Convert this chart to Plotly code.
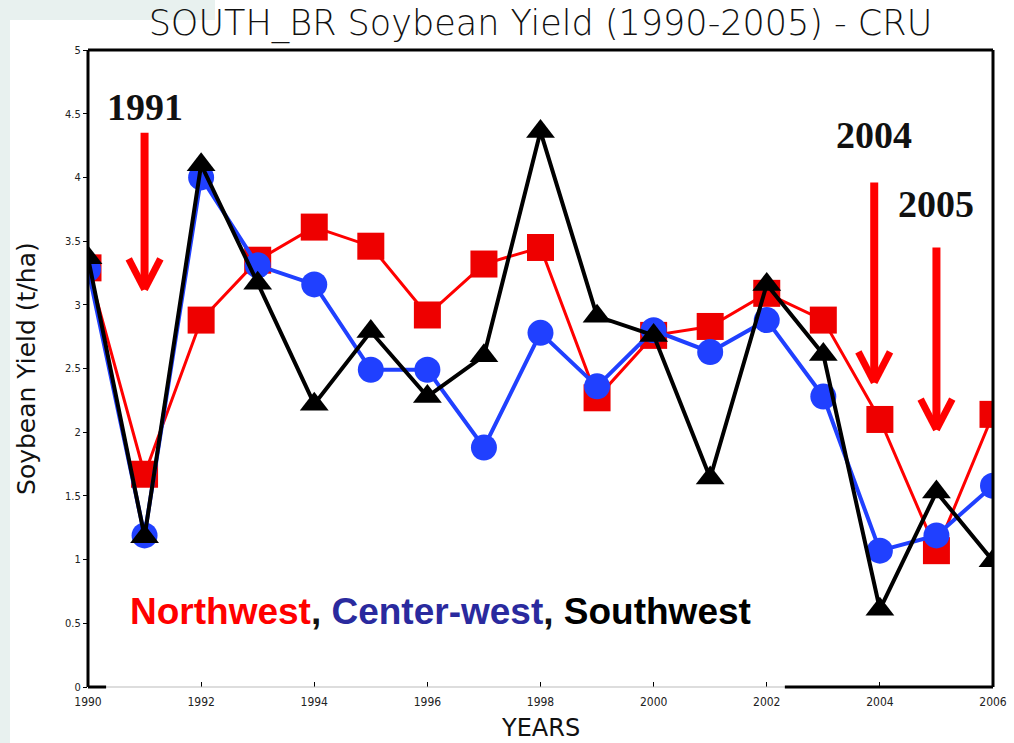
import plotly.graph_objects as go

# Crop years and regional soybean yields (t/ha)
years = list(range(1990, 2007))
northwest = [3.29, 1.67, 2.88, 3.35, 3.61, 3.46, 2.92, 3.32, 3.45, 2.27,
             2.76, 2.83, 3.09, 2.88, 2.10, 1.07, 2.14]
center_west = [3.28, 1.19, 4.00, 3.31, 3.16, 2.49, 2.49, 1.88, 2.78, 2.36,
               2.80, 2.63, 2.88, 2.28, 1.07, 1.19, 1.58]
southwest = [3.37, 1.18, 4.10, 3.17, 2.22, 2.79, 2.28, 2.60, 4.36, 2.91,
             2.76, 1.64, 3.16, 2.61, 0.61, 1.53, 0.99]

y_ticks = [0, 0.5, 1, 1.5, 2, 2.5, 3, 3.5, 4, 4.5, 5]
y_tick_text = ["0", "0.5", "1", "1.5", "2", "2.5", "3", "3.5", "4", "4.5", "5"]
x_ticks = list(range(1990, 2007, 2))

# Highlighted drought years: (label, arrow x, arrow top, arrow tip, label y)
highlights = [
    ("1991", 1991.0, 4.35, 3.12, 4.55),
    ("2004", 2003.9, 3.96, 2.39, 4.33),
    ("2005", 2005.0, 3.45, 2.02, 3.79),
]

fig = go.Figure()

fig.add_trace(go.Scatter(
    x=years, y=northwest, mode="lines+markers", name="Northwest",
    line=dict(color="#ff0000", width=3),
    marker=dict(symbol="square", size=27, color="#ee0000"),
))
fig.add_trace(go.Scatter(
    x=years, y=center_west, mode="lines+markers", name="Center-west",
    line=dict(color="#2040ff", width=4),
    marker=dict(symbol="circle", size=26, color="#2040ff"),
))
fig.add_trace(go.Scatter(
    x=years, y=southwest, mode="lines+markers", name="Southwest",
    line=dict(color="#000000", width=4),
    marker=dict(symbol="triangle-up", size=25, color="#000000"),
))

shapes = []
# pale page strips at top-left and left edge
for x0, x1, y0, y1 in [(-0.0972, 0.1403, 1.047, 1.08), (-0.0972, -0.0862, -0.09, 1.08)]:
    shapes.append(dict(type="rect", xref="paper", yref="paper", x0=x0, x1=x1,
                       y0=y0, y1=y1, fillcolor="#e8f1ef", line=dict(width=0),
                       layer="below"))

# plot frame: black on top/left/right, bottom partly grey
frame = [
    (0, 1, 1, 1, "black", 3),
    (0, 0, 0, 1, "black", 3),
    (1, 1, 0, 1, "black", 3),
    (0, 1, 0, 0, "#bbbbbb", 1),
    (0, 0.02, 0, 0, "black", 3),
    (0.77, 1, 0, 0, "black", 3),
]
for x0, x1, y0, y1, c, w in frame:
    shapes.append(dict(type="line", xref="paper", yref="paper", x0=x0, x1=x1,
                       y0=y0, y1=y1, line=dict(color=c, width=w), layer="above"))

# red downward arrows with open chevron heads
annotations = []
for label, ax_x, top, tip, ly in highlights:
    shapes.append(dict(type="line", xref="x", yref="y", x0=ax_x, x1=ax_x,
                       y0=top, y1=tip + 0.03, line=dict(color="#ff0000", width=8)))
    for dx in (-0.28, 0.28):
        shapes.append(dict(type="line", xref="x", yref="y", x0=ax_x + dx, x1=ax_x,
                           y0=tip + 0.24, y1=tip, line=dict(color="#ff0000", width=7)))
    annotations.append(dict(x=ax_x, y=ly, xref="x", yref="y", text="<b>" + label + "</b>",
                            showarrow=False,
                            font=dict(family="Liberation Serif, Times New Roman, serif",
                                      size=38, color="#111111"),
                            xanchor="center", yanchor="middle"))

annotations.append(dict(
    x=0.044, y=0.119, xref="paper", yref="paper", xanchor="left", yanchor="middle",
    showarrow=False,
    text=("<b><span style='color:#ff0000'>Northwest</span>, "
          "<span style='color:#2a2a9e'>Center-west</span>, "
          "<span style='color:#000000'>Southwest</span></b>"),
    font=dict(family="Liberation Sans, Arial, sans-serif", size=37, color="#111111"),
))

# axis titles placed in page coordinates
annotations.append(dict(
    x=0.5, y=-0.065, xref="paper", yref="paper", xanchor="center", yanchor="middle",
    showarrow=False, text="YEARS",
    font=dict(family="DejaVu Sans", size=24, color="#111111"),
))
annotations.append(dict(
    x=-0.068, y=0.5, xref="paper", yref="paper", xanchor="center", yanchor="middle",
    showarrow=False, text="Soybean Yield (t/ha)", textangle=-90,
    font=dict(family="DejaVu Sans", size=25, color="#111111"),
))

fig.update_layout(
    width=1014, height=743,
    margin=dict(l=88, r=21, t=50, b=56),
    paper_bgcolor="white", plot_bgcolor="white",
    showlegend=False,
    title=dict(text="SOUTH_BR Soybean Yield (1990-2005) - CRU",
               x=0.533, xanchor="center", y=0.970, yanchor="middle",
               font=dict(family="DejaVu Sans", size=35, color="#111111", weight=300)),
    xaxis=dict(range=[1990, 2006], tickvals=x_ticks, ticks="inside", ticklen=5,
               tickcolor="black", showgrid=False, zeroline=False, showline=False,
               ticklabelstandoff=6, automargin=False,
               tickfont=dict(family="DejaVu Sans Condensed, DejaVu Sans", size=12, color="#222222")),
    yaxis=dict(range=[0, 5], tickvals=y_ticks, ticktext=y_tick_text, ticks="outside",
               ticklen=4, tickcolor="black", showgrid=False, zeroline=False,
               showline=False, automargin=False,
               tickfont=dict(family="DejaVu Sans Condensed, DejaVu Sans", size=11, color="#222222")),
    shapes=shapes,
    annotations=annotations,
)

fig.write_html("out.html")
